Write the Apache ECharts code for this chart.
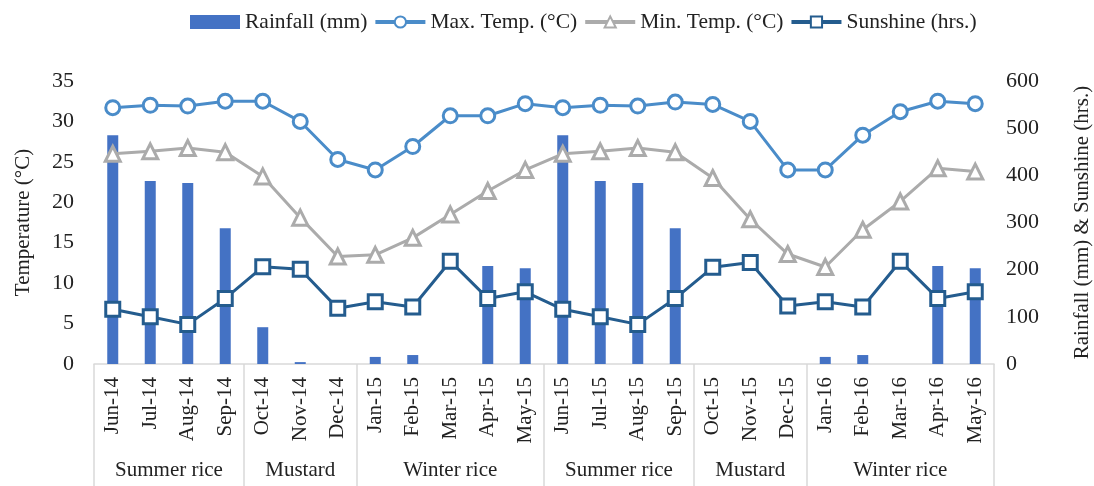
<!DOCTYPE html>
<html>
<head>
<meta charset="utf-8">
<script src="https://cdn.jsdelivr.net/npm/echarts@6/dist/echarts.min.js"></script>
<style>
  html, body { margin: 0; padding: 0; background: #fff; }
  #chart { width: 1094px; height: 486px; }
</style>
</head>
<body>
<div id="chart"></div>
<script>
// months along the bottom
const months = ['Jun-14', 'Jul-14', 'Aug-14', 'Sep-14', 'Oct-14', 'Nov-14', 'Dec-14',
  'Jan-15', 'Feb-15', 'Mar-15', 'Apr-15', 'May-15',
  'Jun-15', 'Jul-15', 'Aug-15', 'Sep-15', 'Oct-15', 'Nov-15', 'Dec-15',
  'Jan-16', 'Feb-16', 'Mar-16', 'Apr-16', 'May-16'];

// crop seasons (second label row)
const seasons = ['Summer rice', 'Mustard', 'Winter rice', 'Summer rice', 'Mustard', 'Winter rice'];
const seasonLengths = [4, 3, 5, 4, 3, 5];

const rainfall = [485, 388, 384, 288, 78, 4, 0, 15, 19, 0, 208, 203,
  485, 388, 384, 288, 0, 0, 0, 15, 19, 0, 208, 203];
const maxTemp = [31.7, 32.0, 31.9, 32.5, 32.5, 30.0, 25.3, 24.0, 26.9, 30.7, 30.7, 32.2,
  31.7, 32.0, 31.9, 32.4, 32.1, 30.0, 24.0, 24.0, 28.3, 31.2, 32.5, 32.2];
const minTemp = [26.0, 26.3, 26.7, 26.2, 23.2, 18.1, 13.3, 13.5, 15.6, 18.5, 21.4, 24.0,
  26.0, 26.3, 26.7, 26.2, 23.0, 17.9, 13.6, 12.0, 16.6, 20.1, 24.2, 23.8];
const sunshine = [116, 100, 84, 139, 206, 201, 118, 132, 121, 218, 139, 153,
  116, 100, 84, 139, 205, 215, 123, 132, 121, 218, 139, 153];

// season boundaries / centres on a 0..24 scale
const seasonBounds = [0];
const seasonCentres = [];
seasonLengths.forEach(n => {
  const start = seasonBounds[seasonBounds.length - 1];
  seasonCentres.push(start + n / 2);
  seasonBounds.push(start + n);
});

const font = 'Liberation Serif';
const gridLine = '#d9d9d9';

const chart = echarts.init(document.getElementById('chart'));
chart.setOption({
  animation: false,
  textStyle: { fontFamily: font, color: '#222' },
  legend: {
    top: 6,
    left: 185,
    itemWidth: 50,
    itemHeight: 14,
    itemGap: 6,
    lineStyle: { width: 4 },
    textStyle: { fontFamily: font, fontSize: 21.5, color: '#222' },
    data: [
      { name: 'Rainfall (mm)', icon: 'rect', itemStyle: { borderWidth: 0 } },
      'Max. Temp. (°C)', 'Min. Temp. (°C)', 'Sunshine (hrs.)'
    ]
  },
  grid: { left: 94, right: 100, top: 81, bottom: 122, outerBoundsMode: 'none' },
  xAxis: [
    {
      type: 'category',
      data: months,
      position: 'bottom',
      offset: 0,
      axisLine: { lineStyle: { color: gridLine, width: 1.5 } },
      axisTick: { length: 83, lineStyle: { color: gridLine, width: 1.5 } },
      axisLabel: {
        rotate: 90, interval: 0, margin: 13,
        fontFamily: font, fontSize: 21, color: '#222'
      }
    },
    {
      type: 'value',
      min: 0,
      max: 24,
      position: 'bottom',
      offset: 0,
      axisLine: { show: false },
      splitLine: { show: false },
      axisTick: {
        show: true,
        customValues: seasonBounds,
        length: 122,
        lineStyle: { color: gridLine, width: 1.5 }
      },
      axisLabel: {
        customValues: seasonCentres,
        margin: 96,
        fontFamily: font, fontSize: 21, color: '#222',
        formatter: v => seasons[seasonCentres.indexOf(v)] || ''
      }
    }
  ],
  yAxis: [
    {
      type: 'value',
      min: 0, max: 35, interval: 5,
      name: 'Temperature (°C)',
      nameLocation: 'middle',
      nameGap: 60,
      nameTextStyle: { fontFamily: font, fontSize: 21, color: '#222' },
      axisLine: { show: false },
      axisTick: { show: false },
      splitLine: { show: false },
      axisLabel: { margin: 20, fontFamily: font, fontSize: 22, color: '#222' }
    },
    {
      type: 'value',
      min: 0, max: 600, interval: 100,
      name: 'Rainfall (mm) & Sunshine (hrs.)',
      nameLocation: 'middle',
      nameGap: 78,
      nameRotate: 90,
      nameTextStyle: { fontFamily: font, fontSize: 21, color: '#222' },
      axisLine: { show: false },
      axisTick: { show: false },
      splitLine: { show: false },
      axisLabel: { margin: 12, fontFamily: font, fontSize: 22, color: '#222' }
    }
  ],
  series: [
    {
      name: 'Rainfall (mm)',
      type: 'bar',
      xAxisIndex: 0,
      yAxisIndex: 1,
      data: rainfall,
      barWidth: 11,
      itemStyle: { color: '#4472C4' }
    },
    {
      name: 'Max. Temp. (°C)',
      type: 'line',
      xAxisIndex: 0,
      yAxisIndex: 0,
      data: maxTemp,
      symbol: 'circle',
      symbolSize: 14,
      lineStyle: { color: '#4A8CC9', width: 3 },
      itemStyle: { color: '#fff', borderColor: '#4A8CC9', borderWidth: 3 }
    },
    {
      name: 'Min. Temp. (°C)',
      type: 'line',
      xAxisIndex: 0,
      yAxisIndex: 0,
      data: minTemp,
      symbol: 'triangle',
      symbolSize: 15,
      lineStyle: { color: '#ABABAB', width: 3 },
      itemStyle: { color: '#fff', borderColor: '#ABABAB', borderWidth: 3 }
    },
    {
      name: 'Sunshine (hrs.)',
      type: 'line',
      xAxisIndex: 0,
      yAxisIndex: 1,
      data: sunshine,
      symbol: 'rect',
      symbolSize: 14,
      lineStyle: { color: '#245C8E', width: 3 },
      itemStyle: { color: '#fff', borderColor: '#245C8E', borderWidth: 3 }
    }
  ]
});
</script>
</body>
</html>
